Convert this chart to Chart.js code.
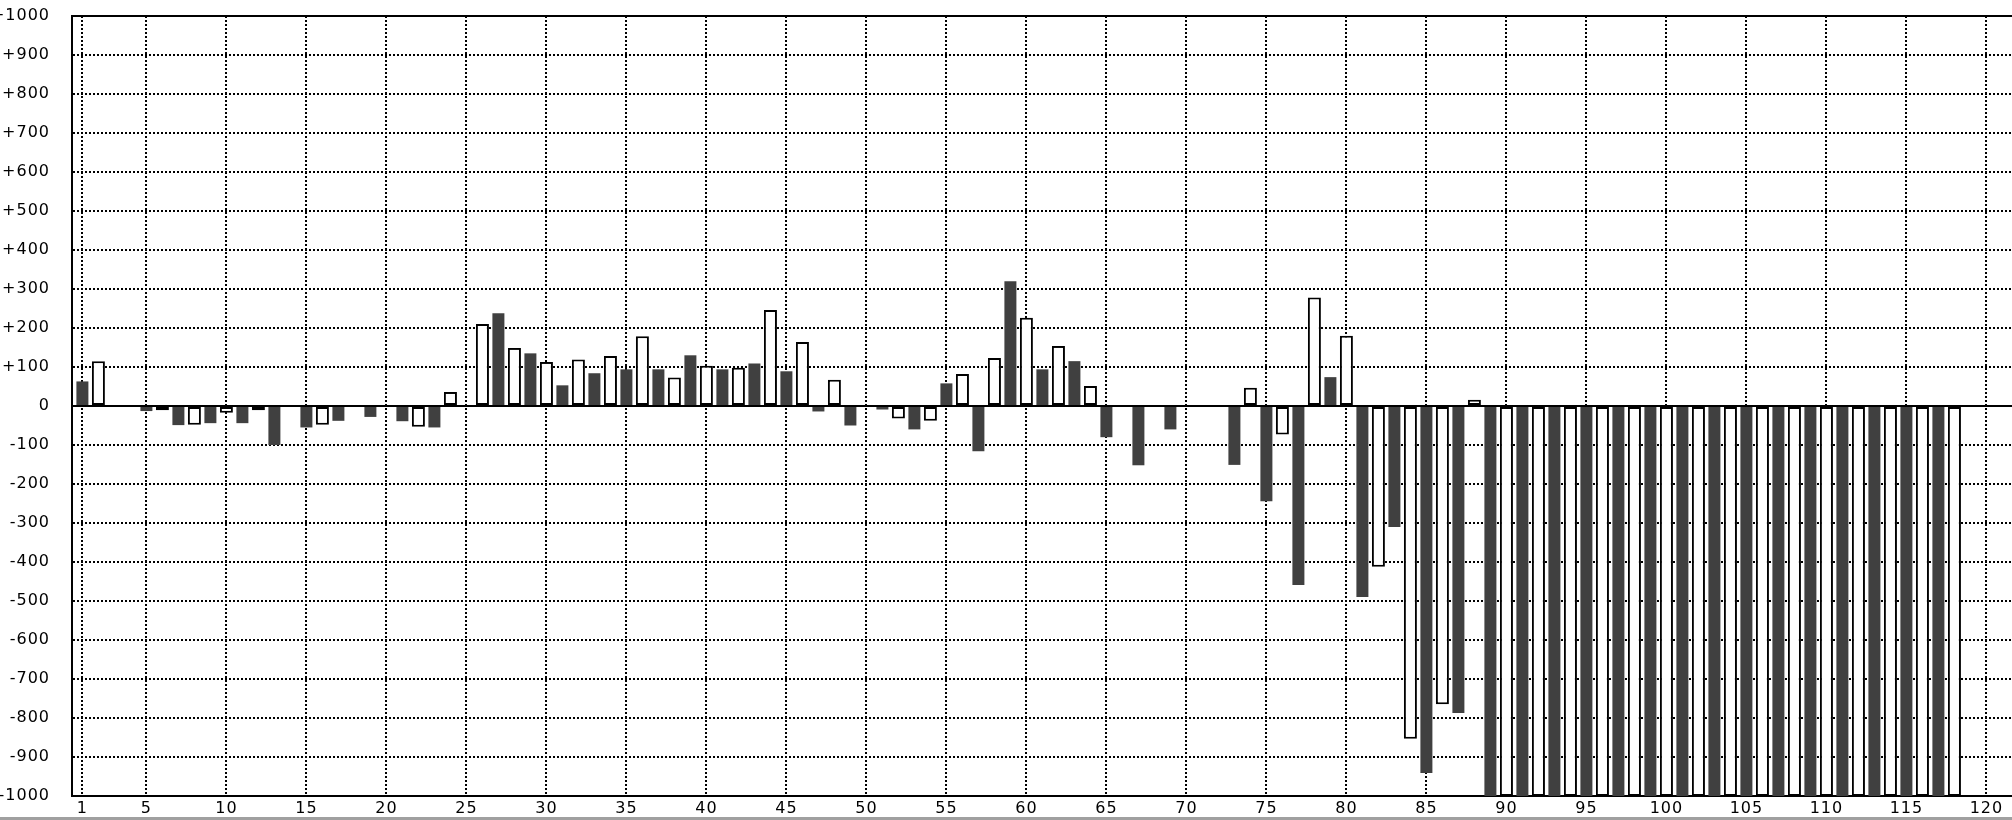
<!DOCTYPE html>
<html><head><meta charset="utf-8">
<script src="https://cdn.jsdelivr.net/npm/chart.js@4"></script>
<style>
html,body{margin:0;padding:0;background:#fff;overflow:hidden}
#wrap{width:2012px;height:817px;border-bottom:3px solid #a0a0a0}
canvas{display:block}
</style></head>
<body><div id="wrap"><canvas id="c" width="2012" height="817"></canvas></div>
<script>
// Dark (filled) series: odd categories
const darkCats = [1,3,5,7,9,11,13,15,17,19,21,23,25,27,29,31,33,35,37,39,41,43,45,47,49,51,53,55,57,59,61,63,65,67,69,71,73,75,77,79,81,83,85,87,89,91,93,95,97,99,101,103,105,107,109,111,113,115,117,119];
const darkValues = [63,0,-13,-49,-44,-44,-100,-55,-38,-28,-39,-55,0,238,135,53,84,94,94,130,94,109,89,-14,-50,-9,-60,58,-116,320,94,115,-80,-152,-60,0,-151,-244,-459,74,-490,-310,-941,-787,-1000,-1000,-1000,-1000,-1000,-1000,-1000,-1000,-1000,-1000,-1000,-1000,-1000,-1000,-1000,0];
// Light (outlined) series: even categories
const lightCats = [2,4,6,8,10,12,14,16,18,20,22,24,26,28,30,32,34,36,38,40,42,44,46,48,50,52,54,56,58,60,62,64,66,68,70,72,74,76,78,80,82,84,86,88,90,92,94,96,98,100,102,104,106,108,110,112,114,116,118,120];
const lightValues = [115,0,-11,-48,-17,-11,0,-48,0,0,-53,36,210,149,113,119,128,179,73,103,98,246,164,67,0,-32,-38,82,123,226,154,51,0,0,0,0,47,-73,278,180,-412,-853,-765,16,-1000,-1000,-1000,-1000,-1000,-1000,-1000,-1000,-1000,-1000,-1000,-1000,-1000,-1000,-1000,0];
// Tick labels
const xTickLabels = [1,5,10,15,20,25,30,35,40,45,50,55,60,65,70,75,80,85,90,95,100,105,110,115,120];
const yTickValues = [-1000,-900,-800,-700,-600,-500,-400,-300,-200,-100,0,100,200,300,400,500,600,700,800,900,1000];
const yTickLabels = ['-1000','-900','-800','-700','-600','-500','-400','-300','-200','-100','0','+100','+200','+300','+400','+500','+600','+700','+800','+900','+1000'];

Chart.defaults.font.family = 'DejaVu Sans';
Chart.defaults.font.size = 16;
Chart.defaults.color = '#000';

const spacing = {
  id: 'spacing',
  beforeDraw(chart) { chart.ctx.letterSpacing = '1px'; }
};

const zeroLine = {
  id: 'zeroLine',
  afterDatasetsDraw(chart) {
    const {ctx, chartArea: a, scales: {y}} = chart;
    const py = Math.round(y.getPixelForValue(0));
    ctx.save();
    ctx.fillStyle = '#000';
    ctx.fillRect(a.left, py - 1, a.right - a.left, 2);
    ctx.restore();
  }
};

const dash = [2, 2];

new Chart(document.getElementById('c'), {
  type: 'bar',
  data: {
    datasets: [
      {
        data: darkCats.map((c, i) => ({x: c, y: darkValues[i]})),
        backgroundColor: '#404040',
        borderWidth: 0,
        barPercentage: 0.75,
        categoryPercentage: 1,
        grouped: false
      },
      {
        data: lightCats.map((c, i) => ({x: c, y: lightValues[i]})),
        backgroundColor: '#ffffff',
        borderColor: '#000000',
        borderWidth: 2,
        borderSkipped: false,
        barPercentage: 0.8125,
        categoryPercentage: 1,
        grouped: false
      }
    ]
  },
  options: {
    responsive: false,
    animation: false,
    devicePixelRatio: 1,
    events: [],
    layout: {padding: {top: 16, left: 0, right: 0, bottom: 0}},
    plugins: {legend: {display: false}, tooltip: {enabled: false}},
    scales: {
      x: {
        type: 'linear',
        offset: false,
        min: 0.35,
        max: 121.6,
        afterBuildTicks: (s) => { s.ticks = xTickLabels.map(v => ({value: v})); },
        afterFit: (s) => { s.height = 21; s.paddingLeft = 0; s.paddingRight = 0; },
        ticks: {padding: 3, maxRotation: 0, autoSkip: false, callback: (v) => String(v)},
        grid: {color: '#000', lineWidth: 2, drawTicks: false, offset: false},
        border: {display: true, color: '#000', width: 2, dash: dash}
      },
      y: {
        min: -1000,
        max: 1000,
        afterBuildTicks: (s) => { s.ticks = yTickValues.map(v => ({value: v})); },
        afterFit: (s) => { s.width = 72; s.paddingTop = 0; s.paddingBottom = 0; },
        ticks: {padding: 22, autoSkip: false, callback: (v) => yTickLabels[yTickValues.indexOf(v)]},
        grid: {color: '#000', lineWidth: 2, drawTicks: false, offset: false},
        border: {
          display: true, color: '#000', width: 2,
          dash: (ctx) => (ctx.tick && ctx.tick.value === 1000) ? [] : dash
        }
      }
    }
  },
  plugins: [spacing, zeroLine]
});
</script>
</body></html>
